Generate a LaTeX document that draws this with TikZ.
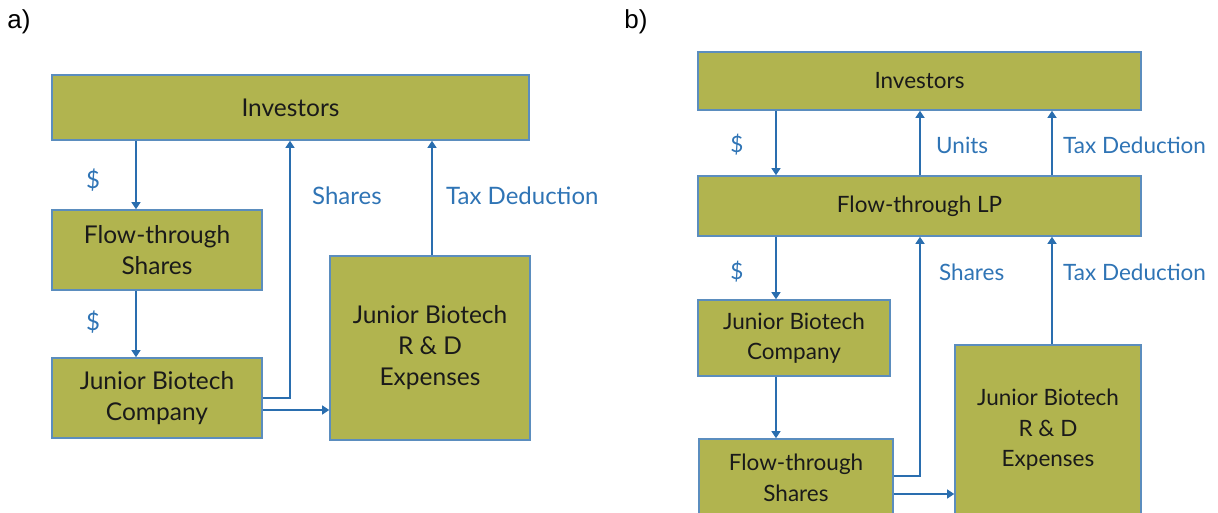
\documentclass[tikz,border=0pt]{standalone}
\usepackage{fontspec}
\setmainfont{Lato}
\newfontfamily\labfont{Liberation Sans}
\usetikzlibrary{arrows.meta}
\definecolor{boxfill}{HTML}{B1B44F}
\definecolor{boxline}{HTML}{5B8DBE}
\definecolor{arrcol}{HTML}{2A6EAF}
\definecolor{labcol}{HTML}{2F74B5}
\definecolor{txtcol}{HTML}{1A1A1A}
\tikzset{
  box/.style={draw=boxline, line width=1.6pt, fill=boxfill, text=txtcol, align=center,
    font=\fontsize{22.5}{30.5}\selectfont, inner sep=0pt},
  boxa/.style={box, font=\fontsize{24.5}{31}\selectfont},
  arr/.style={draw=arrcol, line width=1.4pt, -{Triangle[width=9pt,length=7pt]}},
  lab/.style={text=labcol, font=\fontsize{22.5}{27}\selectfont, inner sep=0pt},
  laba/.style={lab, font=\fontsize{24}{28}\selectfont},
  panel/.style={font=\labfont\fontsize{26}{30}\selectfont, inner sep=0pt}
}
\begin{document}
\begin{tikzpicture}[x=1pt,y=1pt]
\useasboundingbox (0,0) rectangle (1218,512);
\clip (0,0) rectangle (1218,512);
% panel labels
\node[panel] (pa) at (19,490) {a)};
\node[panel] (pb) at (636,490) {b)};
% ---------- panel a ----------
\node[boxa, minimum width=477, minimum height=65] (invA) at (290.5,404.5) {Investors};
\node[boxa, minimum width=210, minimum height=80] (ftsA) at (157,262) {Flow-through\\Shares};
\node[boxa, minimum width=210, minimum height=80] (jbcA) at (157,114) {Junior Biotech\\Company};
\node[boxa, minimum width=200, minimum height=184] (rdA) at (430,164) {Junior Biotech\\R \& D\\Expenses};
\coordinate (xa1) at (136,0);
\coordinate (xa2) at (290,0);
\coordinate (xa3) at (432,0);
\coordinate (ya1) at (0,102);
\draw[arr] (invA.south -| xa1) -- (ftsA.north -| xa1);
\draw[arr] (ftsA.south -| xa1) -- (jbcA.north -| xa1);
\draw[arr] (jbcA.east) -| (invA.south -| xa2);
\draw[arr] (jbcA.east |- ya1) -- (rdA.west |- ya1);
\draw[arr] (rdA.north -| xa3) -- (invA.south -| xa3);
\node[laba] (da1) at (93,332) {\$};
\node[laba] (da2) at (93,190) {\$};
\node[laba, anchor=west] (sha) at (312,316) {Shares};
\node[laba, anchor=west] (txa) at (446,316) {Tax Deduction};
% ---------- panel b ----------
\node[box, minimum width=443, minimum height=58] (invB) at (919.5,431) {Investors};
\node[box, minimum width=443, minimum height=60] (lpB) at (919.5,306) {Flow-through LP};
\node[box, minimum width=192, minimum height=76] (jbcB) at (794,174) {Junior Biotech\\Company};
\node[box, minimum width=194, minimum height=78] (ftsB) at (796,34) {Flow-through\\Shares};
\node[box, minimum width=186, minimum height=170] (rdB) at (1048,82) {Junior Biotech\\R \& D\\Expenses};
\coordinate (xb1) at (776,0);
\coordinate (xb2) at (920,0);
\coordinate (xb3) at (1052,0);
\coordinate (yb1) at (0,36);
\coordinate (yb2) at (0,18);
\draw[arr] (invB.south -| xb1) -- (lpB.north -| xb1);
\draw[arr] (lpB.north -| xb2) -- (invB.south -| xb2);
\draw[arr] (lpB.north -| xb3) -- (invB.south -| xb3);
\draw[arr] (lpB.south -| xb1) -- (jbcB.north -| xb1);
\draw[arr] (jbcB.south -| xb1) -- (ftsB.north -| xb1);
\draw[arr] (ftsB.east |- yb1) -| (lpB.south -| xb2);
\draw[arr] (ftsB.east |- yb2) -- (rdB.west |- yb2);
\draw[arr] (rdB.north -| xb3) -- (lpB.south -| xb3);
\node[lab] (db1) at (737,367) {\$};
\node[lab] (db2) at (737,240) {\$};
\node[lab, anchor=west] (unb) at (936,367) {Units};
\node[lab, anchor=west] (txb1) at (1063,367) {Tax Deduction};
\node[lab, anchor=west] (shb) at (939,240) {Shares};
\node[lab, anchor=west] (txb2) at (1063,240) {Tax Deduction};
\end{tikzpicture}
\end{document}
